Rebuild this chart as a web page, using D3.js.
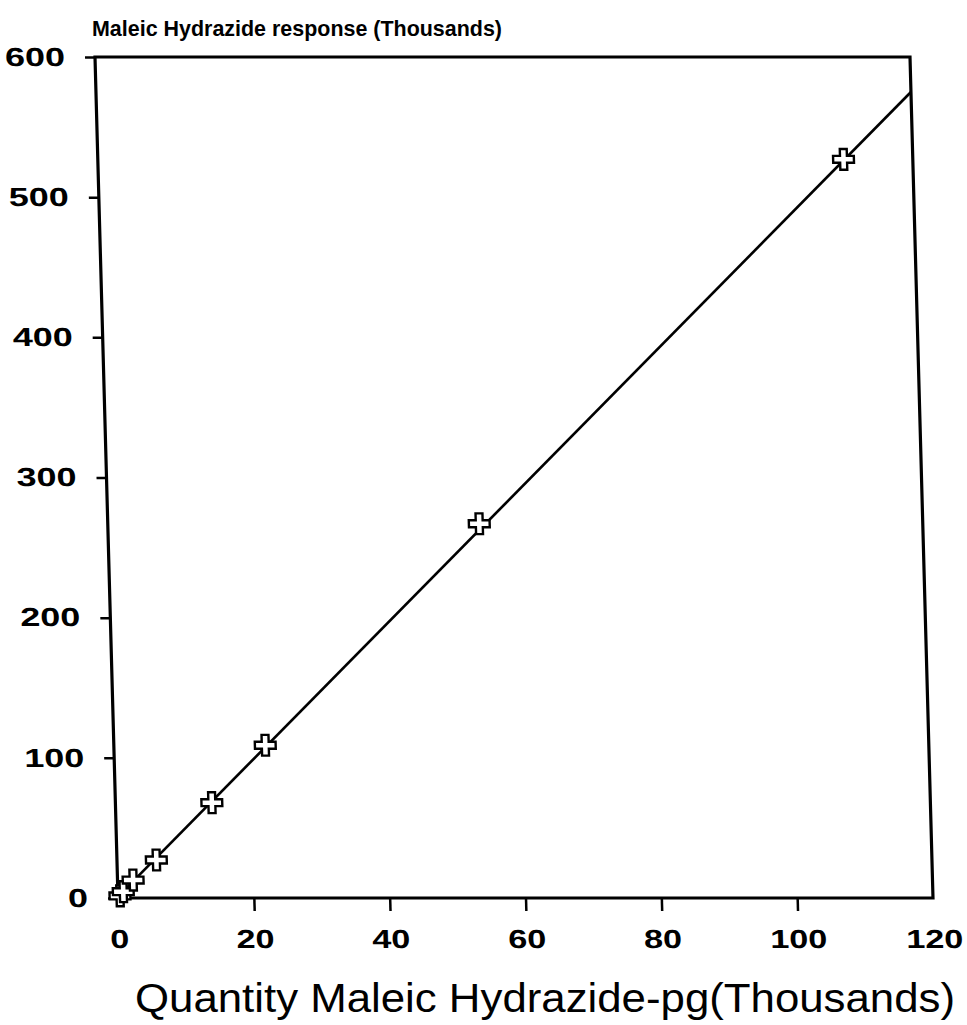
<!DOCTYPE html>
<html>
<head>
<meta charset="utf-8">
<script src="https://cdn.jsdelivr.net/npm/d3@7"></script>
<style>
  body { margin: 0; background: #fff; }
  svg { display: block; }
</style>
</head>
<body>
<svg id="chart" width="967" height="1025"></svg>
<script>
// values
var xTicks = [0, 20, 40, 60, 80, 100, 120];
var yTicks = [0, 100, 200, 300, 400, 500, 600];
var doseX = [0.3, 0.8, 2.3, 5.8, 14.2, 22.3, 54.7, 109.8];
var respY = [1.5, 4.5, 12.8, 27.1, 68, 109, 267, 527];
var fitX = [0, 120];
var fitY = [1, 575];

var titleText = "Maleic Hydrazide response (Thousands)";
var xTitleText = "Quantity Maleic Hydrazide-pg(Thousands)";

var svg = d3.select("#chart");
var plotLeft = 95, plotTop = 57, W = 815, H = 841;
// the scan is slightly sheared, bottom sits ~23px right of top
var shear = Math.atan(23 / H) * 180 / Math.PI;

var x = d3.scaleLinear().domain([0, 120]).range([0, W]);
var y = d3.scaleLinear().domain([0, 600]).range([H, 0]);

var g = svg.append("g")
  .attr("transform", "translate(" + plotLeft + "," + plotTop + ") skewX(" + shear + ")");

var fontTick = "'Liberation Sans', Arial, sans-serif";

// y axis
var yAx = g.append("g")
  .call(d3.axisLeft(y).tickValues(yTicks).tickSize(10).tickPadding(20).tickSizeOuter(0));
yAx.select(".domain").remove();
yAx.selectAll("line").attr("stroke", "#000").attr("stroke-width", 2.5);
yAx.selectAll("text")
  .attr("fill", "#000")
  .style("font-family", fontTick)
  .style("font-weight", "bold")
  .style("font-size", "26px")
  .attr("textLength", function (d) { return String(d).length * 20; })
  .attr("lengthAdjust", "spacingAndGlyphs");

// x axis
var xAx = g.append("g")
  .attr("transform", "translate(0," + H + ")")
  .call(d3.axisBottom(x).tickValues(xTicks).tickSize(13).tickPadding(19).tickSizeOuter(0));
xAx.select(".domain").remove();
xAx.selectAll("line")
  .attr("stroke", "#000").attr("stroke-width", 2.5)
  .attr("display", function (d) { return (d === 0 || d === 120) ? "none" : null; });
xAx.selectAll("text")
  .attr("fill", "#000")
  .style("font-family", fontTick)
  .style("font-weight", "bold")
  .style("font-size", "26px")
  .attr("textLength", function (d) { return String(d).length * 19; })
  .attr("lengthAdjust", "spacingAndGlyphs");

// frame
g.append("rect")
  .attr("x", 0).attr("y", 0)
  .attr("width", W).attr("height", H)
  .attr("fill", "none")
  .attr("stroke", "#000")
  .attr("stroke-width", 3.2);

// fitted line
var fit = fitX.map(function (v, i) { return [v, fitY[i]]; });
g.append("path")
  .datum(fit)
  .attr("d", d3.line().x(function (d) { return x(d[0]); }).y(function (d) { return y(d[1]); }))
  .attr("fill", "none")
  .attr("stroke", "#000")
  .attr("stroke-width", 2.6);

// markers
var pts = doseX.map(function (v, i) { return [v, respY[i]]; });
g.selectAll(".pt")
  .data(pts)
  .enter().append("path")
  .attr("class", "pt")
  .attr("transform", function (d) { return "translate(" + x(d[0]) + "," + y(d[1]) + ")"; })
  .attr("d", d3.symbol().type(d3.symbolCross).size(240))
  .attr("fill", "#fff")
  .attr("stroke", "#000")
  .attr("stroke-width", 2.4);

// titles
svg.append("text")
  .attr("x", 92).attr("y", 36)
  .style("font-family", fontTick)
  .style("font-weight", "bold")
  .style("font-size", "22px")
  .attr("textLength", 410)
  .attr("lengthAdjust", "spacingAndGlyphs")
  .text(titleText);

svg.append("text")
  .attr("x", 135).attr("y", 1012)
  .style("font-family", fontTick)
  .style("font-size", "40px")
  .attr("textLength", 820)
  .attr("lengthAdjust", "spacingAndGlyphs")
  .text(xTitleText);
</script>
</body>
</html>
